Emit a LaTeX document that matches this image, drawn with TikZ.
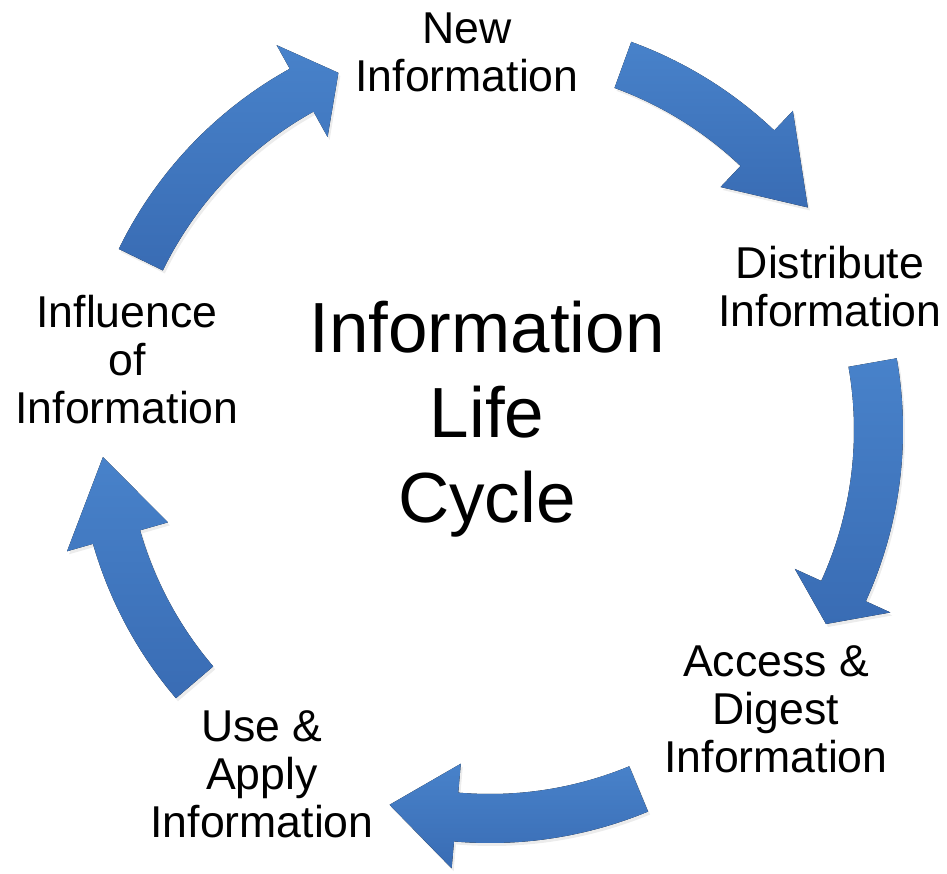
\documentclass[tikz,border=0pt]{standalone}
\usepackage{fontspec}
\setmainfont{Liberation Sans}
\usetikzlibrary{shadows}

\definecolor{cyclelight}{RGB}{72,130,202}
\definecolor{cycledark}{RGB}{57,108,180}

\begin{document}
\begin{tikzpicture}[x=1pt,y=1pt,
  stage/.style = {align=center, font=\fontsize{44.6}{48}\selectfont},
  heading/.style = {align=center, font=\fontsize{71}{85}\selectfont},
  cyclearrow/.style = {top color=cyclelight, bottom color=cycledark,
    drop shadow={opacity=0.15, shadow xshift=2pt, shadow yshift=-3pt}}]
\useasboundingbox (-490,-444) rectangle (457,430);
% curved block arrows round the centre: tail angle / head base / tip
\foreach \ts/\hb/\tip in {154/119/113, 70/46.5/35, 10/-24.5/-30, -67.5/-95/-105, 220.5/196/184}
  \fill[cyclearrow] (\ts:413) arc[start angle=\ts, end angle=\hb, radius=413]
    -- (\hb:440) -- (\tip:388) -- (\hb:335) -- (\hb:364)
    arc[start angle=\hb, end angle=\ts, radius=364] -- cycle;
\node[heading] (cycle) at (-3,10.5) {Information\\Life\\Cycle};
\node[stage] (new) at (-23,378) {New\\Information};
\node[stage] (distribute) at (340,143) {Distribute\\Information};
\node[stage] (access) at (286,-279.5) {Access \&\\Digest\\Information};
\node[stage] (use) at (-228,-344.5) {Use \&\\Apply\\Information};
\node[stage] (influence) at (-363,70.5) {Influence\\of\\Information};
\end{tikzpicture}
\end{document}
